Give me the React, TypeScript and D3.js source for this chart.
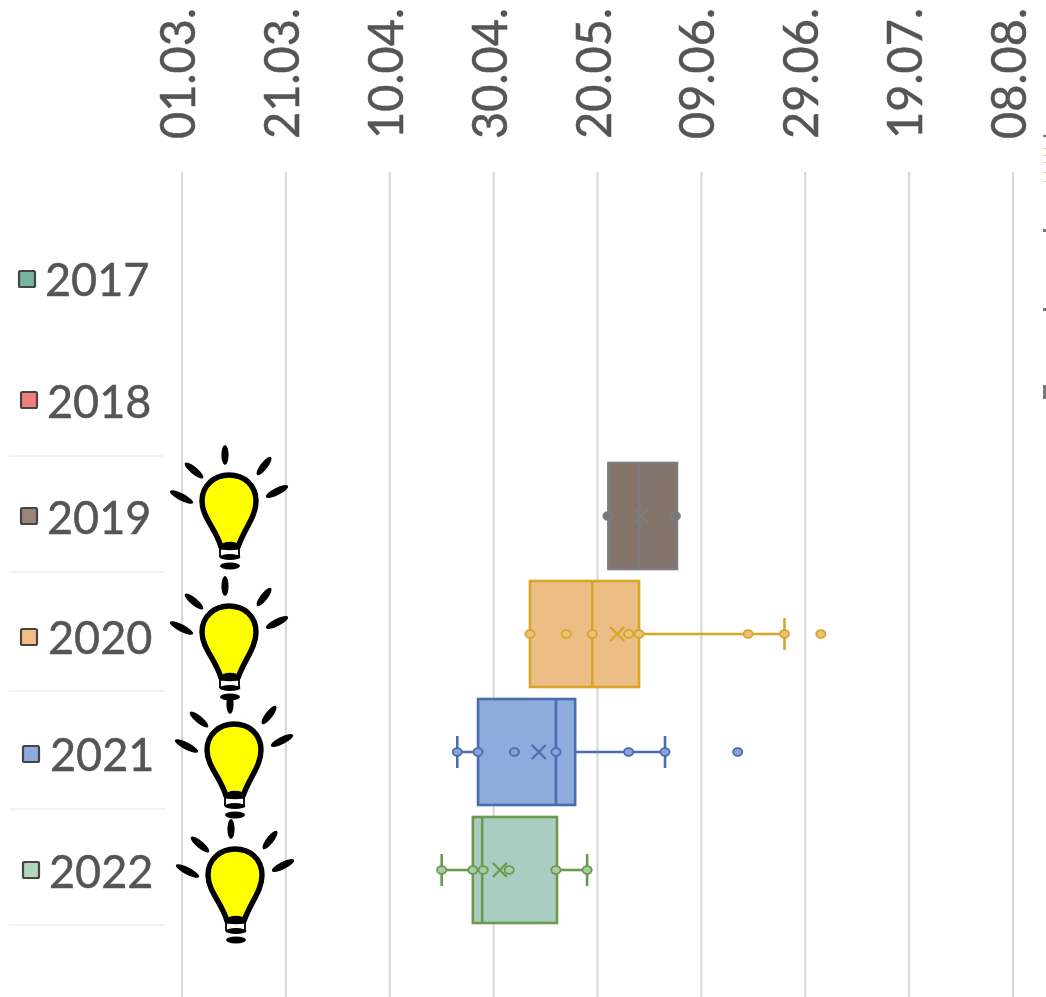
import React from "react";
import * as d3 from "d3";

// Values are days after 1 March
const years = ["2017", "2018", "2019", "2020", "2021", "2022"];
const tickLabels = ["01.03.", "21.03.", "10.04.", "30.04.", "20.05.", "09.06.", "29.06.", "19.07.", "08.08."];
const tickDays = [0, 20, 40, 60, 80, 100, 120, 140, 160];
const whiskerLow = [null, null, 82, 67, 53, 50];
const q1 = [null, null, 82.1, 67, 57, 56];
const median = [null, null, 88, 79, 72, 57.8];
const q3 = [null, null, 95.3, 88, 75.7, 72.2];
const whiskerHigh = [null, null, 95.2, 116, 93, 78];
const means = [null, null, 88.4, 83.8, 68.7, 61.2];
const points = [[], [], [82, 95], [67, 74, 79, 86, 88, 109, 116, 123], [53, 57, 64, 72, 86, 93, 107], [50, 56, 58, 63, 72, 78]];
const boxFill = ["#74B49F", "#EF7D7D", "#84736A", "#ECBD84", "#8FAADC", "#ABCCC0"];
const swatchFill = ["#74B49F", "#EF7D7D", "#9B8579", "#F5BD85", "#8FAADC", "#B5D4C4"];
const stroke = ["#5a9a85", "#c96060", "#7c7c7c", "#D8A526", "#4A6DAE", "#6A9A4B"];
const dotFill = ["#74B49F", "#EF7D7D", "#777777", "#E9C27E", "#8AA3D6", "#A9CBAA"];

// layout
const labelShift = [[45, 0], [47, 4], [47, 2], [48, 4], [50, 3], [49, 2]];
const swatchAt = [[27, 279], [29, 400], [29, 516], [29, 637], [31, 754], [31, 870]];
const separators = [456, 572, 691, 809, 925];
const bulbShift = [[229, 503], [229, 634], [234, 752], [235, 877]];
const rays = [[-4, -58, -4, -38], [-44, -40, -26, -25], [-59, -12, -36, 0], [42, -46, 28, -28], [59, -17, 37, -6]];
const sideMarks = [[135, 2], [148, 1], [155, 1], [162, 1], [172, 1], [181, 1], [229, 3], [308, 3], [385, 14]];

const x = d3.scaleLinear().domain([0, 160]).range([182, 1013]);
const y = d3.scalePoint<string>().domain(years).range([280, 870]);
const BOX_H = 53;

function Bulb({ at }: { at: number[] }) {
  const outline = d3.path();
  outline.moveTo(-8, 44);
  outline.bezierCurveTo(-13, 26, -27, 14, -27, -2);
  outline.bezierCurveTo(-27, -18, -14, -28, 0, -28);
  outline.bezierCurveTo(15, -28, 27, -18, 27, -2);
  outline.bezierCurveTo(27, 14, 15, 26, 9, 44);
  outline.closePath();
  return (
    <g transform={`translate(${at[0]},${at[1]})`}>
      {rays.map((r, i) => {
        const cx = (r[0] + r[2]) / 2;
        const cy = (r[1] + r[3]) / 2;
        const len = Math.hypot(r[2] - r[0], r[3] - r[1]) / 2;
        const a = (Math.atan2(r[3] - r[1], r[2] - r[0]) * 180) / Math.PI;
        return <ellipse key={i} cx={cx} cy={cy} rx={len} ry={3.6} transform={`rotate(${a} ${cx} ${cy})`} fill="#000" />;
      })}
      <path d={outline.toString()} fill="#FFFF00" stroke="#000" strokeWidth={5.4} strokeLinejoin="round" />
      <ellipse cx={1} cy={43} rx={9.5} ry={4.2} fill="#000" />
      <path d="M-9 44 L-9 54 M10 44 L10 54" stroke="#000" strokeWidth={1.8} fill="none" />
      <ellipse cx={1} cy={54} rx={10.5} ry={3} fill="#000" />
      <ellipse cx={1} cy={63} rx={10} ry={3.4} fill="#000" />
    </g>
  );
}

export default function App() {
  const font = "Lato, Carlito, sans-serif";
  return (
    <svg width={1046} height={997} style={{ position: "absolute", left: 0, top: 0, background: "#fff" }} fontFamily={font}>
      <defs>
        <filter id="soft" x="0" y="0" width="100%" height="100%" filterUnits="objectBoundingBox">
          <feGaussianBlur stdDeviation={0.7} />
        </filter>
      </defs>
      <g filter="url(#soft)">
        <rect width={1046} height={997} fill="#fff" />
        {tickDays.map((d, i) => (
          <g key={i}>
            <line x1={x(d)} x2={x(d)} y1={172} y2={997} stroke="#D9D9D9" strokeWidth={2.2} />
            <text
              transform={`translate(${x(d) + 13},139) rotate(-90) scale(1.02,1.07)`}
              fontSize={46}
              fill="#555"
              stroke="#555"
              strokeWidth={0.5}
            >
              {tickLabels[i]}
            </text>
          </g>
        ))}
        {separators.map((s) => (
          <line key={s} x1={9} x2={165} y1={s} y2={s} stroke="#E6E6E6" strokeWidth={1} />
        ))}
        {sideMarks.map((m, i) => (
          <rect key={i} x={1043} y={m[0]} width={3} height={m[1]} fill={i > 0 && i < 6 ? "#d8cf9a" : "#777"} />
        ))}
        {years.map((yr, i) => (
          <g key={yr}>
            <rect x={swatchAt[i][0] - 8} y={swatchAt[i][1] - 8} width={16} height={16} rx={1.5} fill={swatchFill[i]} stroke="#444" strokeWidth={2.2} />
            <text
              transform={`translate(${labelShift[i][0]},${(y(yr) as number) + 16 + labelShift[i][1]}) scale(1,1.05)`}
              fontSize={45}
              fill="#555"
              stroke="#555"
              strokeWidth={0.5}
            >
              {yr}
            </text>
          </g>
        ))}
        {years.map((yr, i) => {
          if (q1[i] === null) return null;
          const cy = y(yr) as number;
          const c = stroke[i];
          const sw = 2.6;
          const mx = x(means[i] as number);
          return (
            <g key={yr}>
              <line x1={x(whiskerLow[i] as number)} x2={x(q1[i] as number)} y1={cy} y2={cy} stroke={c} strokeWidth={sw} />
              <line x1={x(q3[i] as number)} x2={x(whiskerHigh[i] as number)} y1={cy} y2={cy} stroke={c} strokeWidth={sw} />
              {(whiskerLow[i] as number) < (q1[i] as number) - 0.5 && (
                <line x1={x(whiskerLow[i] as number)} x2={x(whiskerLow[i] as number)} y1={cy - 16} y2={cy + 16} stroke={c} strokeWidth={sw} />
              )}
              {(whiskerHigh[i] as number) > (q3[i] as number) + 0.5 && (
                <line x1={x(whiskerHigh[i] as number)} x2={x(whiskerHigh[i] as number)} y1={cy - 16} y2={cy + 16} stroke={c} strokeWidth={sw} />
              )}
              <rect
                x={x(q1[i] as number)}
                y={cy - BOX_H}
                width={x(q3[i] as number) - x(q1[i] as number)}
                height={BOX_H * 2}
                fill={boxFill[i]}
                stroke={c}
                strokeWidth={sw}
              />
              <line x1={x(median[i] as number)} x2={x(median[i] as number)} y1={cy - BOX_H} y2={cy + BOX_H} stroke={c} strokeWidth={sw} />
              {points[i].map((p, j) => (
                <ellipse key={j} cx={x(p)} cy={cy} rx={4.6} ry={3.8} fill={dotFill[i]} stroke={c} strokeWidth={1.8} />
              ))}
              <path
                d={d3.line()([[mx - 7, cy - 7], [mx + 7, cy + 7]]) + d3.line()([[mx - 7, cy + 7], [mx + 7, cy - 7]])}
                fill="none"
                stroke={c}
                strokeWidth={2.2}
              />
            </g>
          );
        })}
        {bulbShift.map((b, i) => (
          <Bulb key={i} at={b} />
        ))}
      </g>
    </svg>
  );
}
